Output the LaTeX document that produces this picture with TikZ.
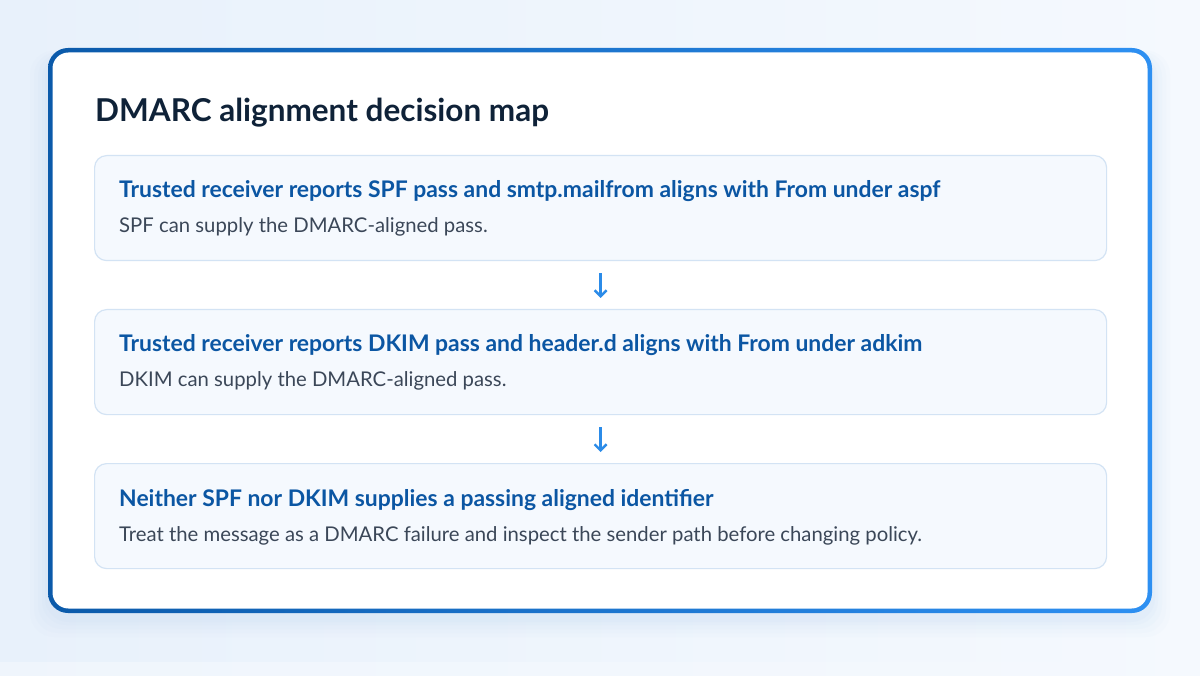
\documentclass[tikz,border=0pt]{standalone}
\usepackage{fontspec}
\setmainfont{Lato}
\usetikzlibrary{arrows.meta,positioning}
\definecolor{bgA}{HTML}{E8F1FB}
\definecolor{bgB}{HTML}{F5F9FE}
\definecolor{bdL}{HTML}{0B5AAA}
\definecolor{bdR}{HTML}{2E90F2}
\definecolor{titlec}{HTML}{0F2238}
\definecolor{headc}{HTML}{0B56A3}
\definecolor{bodyc}{HTML}{3B4758}
\definecolor{boxfill}{HTML}{F5F9FE}
\definecolor{boxline}{HTML}{D3E3F4}
\definecolor{arrowc}{HTML}{2B8BE8}
\definecolor{shadowc}{HTML}{B9D3EE}
\tikzset{
  stepbox/.style={draw=boxline, line width=1.2pt, fill=boxfill, rounded corners=12pt, minimum width=1012pt, minimum height=105pt, inner sep=0pt},
  headtxt/.style={anchor=base west, inner sep=0pt, text=headc, font=\fontsize{22.9}{27}\selectfont\bfseries},
  bodytxt/.style={anchor=base west, inner sep=0pt, text=bodyc, font=\fontsize{20.3}{24}\selectfont},
  flowarrow/.style={draw=arrowc, line width=2.4pt, -{Straight Barb[length=6pt,width=12pt,line width=2.4pt]}, shorten <=12pt, shorten >=11pt}
}
\begin{document}
\begin{tikzpicture}[x=1pt,y=-1pt]
\useasboundingbox (0,0) rectangle (1200,676);
% background
\shade[left color=bgA, right color=bgB] (0,0) rectangle (1200,676);
\fill[bgB, opacity=0.6] (0,662) rectangle (1200,676);
% shadow
\foreach \i/\o in {18/0.04,14/0.05,10/0.06,6/0.07,3/0.08} {
  \fill[shadowc, opacity=\o, rounded corners=24pt] (48-\i,48-\i*0.3+8) rectangle (1152+\i,613+\i+6);
}
% card
\shade[left color=bdL, right color=bdR, rounded corners=20pt] (48,48) rectangle (1152,613);
\fill[white, rounded corners=16pt] (52.5,52.5) rectangle (1147.5,608.5);
% title
\node[anchor=base west, inner sep=0pt, text=titlec, font=\fontsize{31.5}{38}\selectfont\bfseries] (title) at (95,122) {DMARC alignment decision map};
% boxes
\node[stepbox, anchor=north west] (b1) at (94,155) {};
\node[stepbox, anchor=north west] (b2) at (94,309) {};
\node[stepbox, anchor=north west] (b3) at (94,463) {};
\node[headtxt] (h1) at (119,198) {Trusted receiver reports SPF pass and smtp.mailfrom aligns with From under aspf};
\node[bodytxt] (t1) at (119,233) {SPF can supply the DMARC-aligned pass.};
\node[headtxt] (h2) at (119,352) {Trusted receiver reports DKIM pass and header.d aligns with From under adkim};
\node[bodytxt] (t2) at (119,387) {DKIM can supply the DMARC-aligned pass.};
\node[headtxt] (h3) at (119,506) {Neither SPF nor DKIM supplies a passing aligned identifier};
\node[bodytxt] (t3) at (119,541) {Treat the message as a DMARC failure and inspect the sender path before changing policy.};
% arrows
\draw[flowarrow] (b1.south) -- (b2.north);
\draw[flowarrow] (b2.south) -- (b3.north);
\end{tikzpicture}
\end{document}
